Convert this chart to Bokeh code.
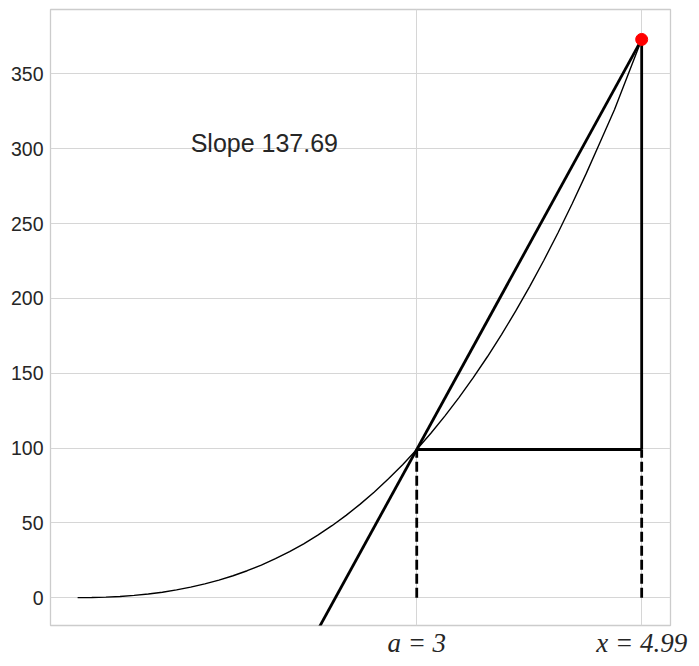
from bokeh.plotting import figure
from bokeh.models import FixedTicker, Range1d
from bokeh.core.properties import value
from bokeh.embed import file_html
from bokeh.resources import INLINE

# curve samples
x_curve = [0, 0.125, 0.25, 0.375, 0.5, 0.625, 0.75, 0.875, 1, 1.125, 1.25, 1.375, 1.5,
           1.625, 1.75, 1.875, 2, 2.125, 2.25, 2.375, 2.5, 2.625, 2.75, 2.875, 3,
           3.125, 3.25, 3.375, 3.5, 3.625, 3.75, 3.875, 4, 4.125, 4.25, 4.375, 4.5,
           4.625, 4.75, 4.875, 4.99]
y_curve = [0, 0.08, 0.34, 0.81, 1.5, 2.44, 3.66, 5.17, 7, 9.18, 11.72, 14.65, 18,
           21.79, 26.03, 30.76, 36, 41.77, 48.09, 55.0, 62.5, 70.63, 79.41, 88.86, 99,
           109.86, 121.47, 133.84, 147, 160.97, 175.78, 191.45, 208, 225.46, 243.84, 263.18, 283.5,
           304.82, 326.16, 350.54, 373.0]

a_val = 3
x_val = 4.99
fa_val = 99
fx_val = 373.0
slope = 137.69
y_ticks = [0, 50, 100, 150, 200, 250, 300, 350]
x_tick_labels = ["a = 3", "x = 4.99"]
slope_label = "Slope 137.69"

TEXT = "#262626"
GRID = "#d6d6d6"

p = figure(width=688, height=660, output_backend="svg", toolbar_location=None,
           x_range=Range1d(-0.24, 5.245), y_range=Range1d(-18.6, 393.0),
           min_border_left=50, min_border_top=9, min_border_right=18, min_border_bottom=10)
p.background_fill_color = "white"
p.border_fill_color = "white"
p.outline_line_color = "#cccccc"
p.outline_line_width = 1.3

# grid
p.xgrid.grid_line_color = GRID
p.ygrid.grid_line_color = GRID
p.xgrid.grid_line_width = 1
p.ygrid.grid_line_width = 1

# axes
p.xaxis.ticker = FixedTicker(ticks=[a_val, x_val])
p.xaxis.major_label_overrides = {a_val: x_tick_labels[0], x_val: x_tick_labels[1]}
p.yaxis.ticker = FixedTicker(ticks=y_ticks)
for ax in (p.xaxis, p.yaxis):
    ax.axis_line_color = None
    ax.major_tick_line_color = None
    ax.minor_tick_line_color = None
    ax.major_tick_out = 0
    ax.major_tick_in = 0
    ax.major_label_text_color = TEXT
p.yaxis.major_label_text_font = "Liberation Sans"
p.yaxis.major_label_text_font_size = "19.5px"
p.yaxis.major_label_standoff = 7
p.xaxis.major_label_text_font = "Liberation Serif"
p.xaxis.major_label_text_font_style = "italic"
p.xaxis.major_label_text_font_size = "27px"
p.xaxis.major_label_standoff = 2

# curve
p.line(x_curve, y_curve, line_color="black", line_width=1.4)

# secant line, extended to the start of the curve
x0 = x_curve[0]
y0 = fa_val + slope * (x0 - a_val)
p.line([x0, x_val], [y0, fx_val], line_color="black", line_width=2.8)

# triangle legs
p.line([a_val, x_val], [fa_val, fa_val], line_color="black", line_width=2.8)
p.line([x_val, x_val], [fa_val, fx_val], line_color="black", line_width=2.8)

# dashed drops
p.line([a_val, a_val], [0, fa_val], line_color="black", line_width=2.8, line_dash="10 4")
p.line([x_val, x_val], [0, fa_val], line_color="black", line_width=2.8, line_dash="10 4")

# point
p.scatter([x_val], [fx_val], size=12, fill_color="red", line_color="red")

# label
p.text(x=[1], y=[300], text=[slope_label], text_font=value("Liberation Sans"),
       text_font_size="25px", text_color=TEXT, text_align="left",
       text_baseline="middle", y_offset=-6)

open("out.html", "w").write(file_html(p, INLINE))
